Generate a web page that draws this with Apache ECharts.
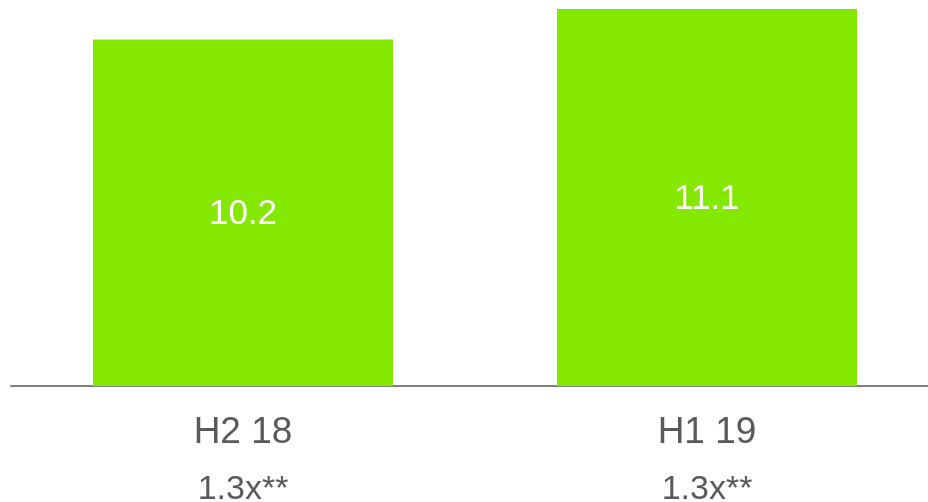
<!DOCTYPE html>
<html>
<head>
<meta charset="utf-8">
<script src="https://cdn.jsdelivr.net/npm/echarts@6/dist/echarts.min.js"></script>
<style>
  html, body { margin: 0; padding: 0; background: #ffffff; }
  #chart { width: 928px; height: 502px; }
</style>
</head>
<body>
<div id="chart"></div>
<script>
// Half-year periods, their values and the multiple shown under each period
const periods = ['H2 18', 'H1 19'];
const values = [10.2, 11.1];
const multiples = ['1.3x**', '1.3x**'];

const chart = echarts.init(document.getElementById('chart'), null, { renderer: 'canvas' });

chart.setOption({
  animation: false,
  grid: { left: 11, width: 928, top: 9, bottom: 116, containLabel: false, outerBoundsMode: 'none' },
  xAxis: {
    type: 'category',
    data: periods,
    axisLine: { show: true, lineStyle: { color: '#808080', width: 2 } },
    axisTick: { show: false },
    axisLabel: {
      margin: 18,
      formatter: function (v, i) {
        return '{a|' + v + '}\n{b|' + multiples[i] + '}';
      },
      rich: {
        a: { fontFamily: 'Liberation Sans', fontSize: 37, color: '#595959', lineHeight: 57 },
        b: { fontFamily: 'Liberation Sans', fontSize: 34, color: '#595959', lineHeight: 57 }
      }
    }
  },
  yAxis: {
    type: 'value',
    min: 0,
    max: 'dataMax',
    show: false,
    splitLine: { show: false }
  },
  series: [{
    type: 'bar',
    data: values,
    barWidth: 300,
    itemStyle: { color: '#84E800' },
    label: {
      show: true,
      position: 'inside',
      offset: [0, 2],
      fontFamily: 'Liberation Sans',
      fontSize: 35,
      color: '#ffffff',
      formatter: function (p) { return p.value.toFixed(1); }
    }
  }]
});
</script>
</body>
</html>
